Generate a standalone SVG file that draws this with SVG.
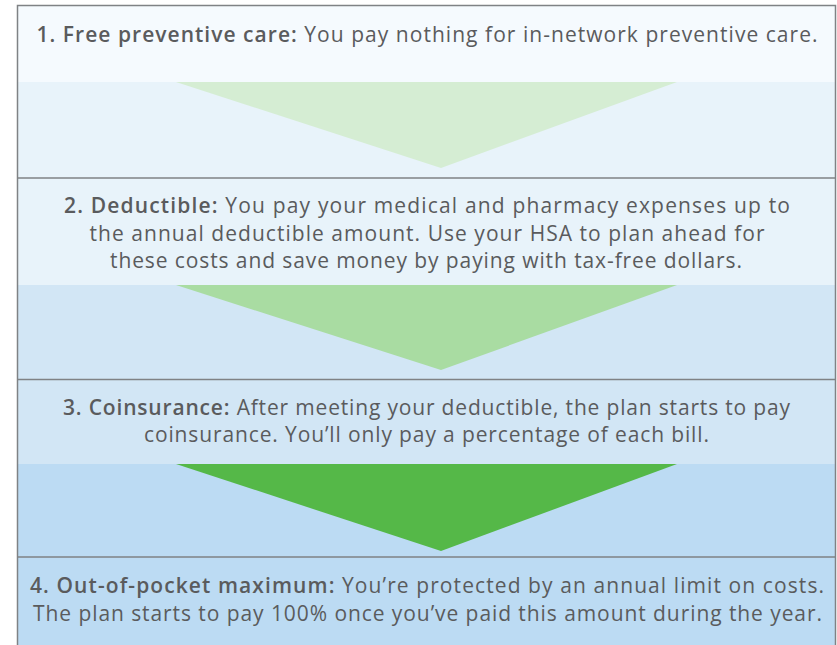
<svg xmlns="http://www.w3.org/2000/svg" width="837" height="645" viewBox="0 0 837 645">
<style>
.t{font-family:"Open Sans",Lato,"Liberation Sans",sans-serif;font-size:21px;fill:#5a5b5d;text-anchor:middle}
.b{font-weight:600}
.sep{stroke:#7f8285;stroke-width:1.5;fill:none}
</style>
<rect x="0" y="0" width="837" height="645" fill="#ffffff"/>
<g id="step1">
<rect x="17" y="5" width="819" height="77" fill="#f5fafe"/>
<rect x="17" y="82" width="819" height="96" fill="#e8f3fa"/>
<text class="t" x="427" y="42" textLength="781" lengthAdjust="spacing"><tspan class="b">1. Free preventive care:</tspan> You pay nothing for in-network preventive care.</text>
</g>
<g id="step2">
<rect x="17" y="178" width="819" height="107" fill="#e8f3fa"/>
<rect x="17" y="285" width="819" height="94" fill="#d2e6f5"/>
<text class="t" x="427" y="213" textLength="726" lengthAdjust="spacing"><tspan class="b">2. Deductible:</tspan> You pay your medical and pharmacy expenses up to</text>
<text class="t" x="427" y="241" textLength="675" lengthAdjust="spacing">the annual deductible amount. Use your HSA to plan ahead for</text>
<text class="t" x="426" y="268" textLength="632" lengthAdjust="spacing">these costs and save money by paying with tax-free dollars.</text>
</g>
<g id="step3">
<rect x="17" y="379" width="819" height="85" fill="#d2e6f5"/>
<rect x="17" y="464" width="819" height="93" fill="#bcdbf3"/>
<text class="t" x="426.5" y="415" textLength="727" lengthAdjust="spacing"><tspan class="b">3. Coinsurance:</tspan> After meeting your deductible, the plan starts to pay</text>
<text class="t" x="426.5" y="442" textLength="565" lengthAdjust="spacing">coinsurance. You’ll only pay a percentage of each bill.</text>
</g>
<g id="step4">
<rect x="17" y="557" width="819" height="88" fill="#bcdbf3"/>
<text class="t" x="427" y="593" textLength="794" lengthAdjust="spacing"><tspan class="b">4. Out-of-pocket maximum:</tspan> You’re protected by an annual limit on costs.</text>
<text class="t" x="427.5" y="621" textLength="789" lengthAdjust="spacing">The plan starts to pay 100% once you’ve paid this amount during the year.</text>
</g>
<g id="connectors">
<polygon points="176,82 677,82 441,168" fill="#d5edd3"/>
<polygon points="176,285 677,285 441,370" fill="#a9dca2"/>
<polygon points="176,464 677,464 441,551" fill="#55b848"/>
</g>
<g id="frame">
<path class="sep" d="M17.5,646 V5.5 H835.5 V646"/>
<line class="sep" x1="17" y1="178" x2="836" y2="178"/>
<line class="sep" x1="17" y1="379.5" x2="836" y2="379.5"/>
<line class="sep" x1="17" y1="557" x2="836" y2="557"/>
</g>
</svg>
